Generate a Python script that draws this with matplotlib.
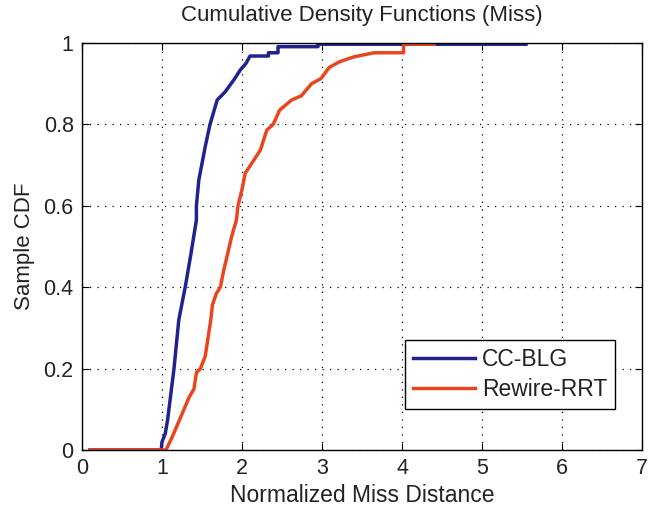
import matplotlib
matplotlib.use("Agg")
import matplotlib.pyplot as plt

plt.rcParams['font.family'] = ['Liberation Sans', 'DejaVu Sans']

# CC-BLG CDF (traced points along the curve)
blg_x = [0.1, 0.99, 1.00, 1.04, 1.07, 1.15, 1.21, 1.29, 1.36, 1.43, 1.43, 1.46, 1.54,
         1.60, 1.69, 1.79, 1.90, 1.98, 2.05, 2.10, 2.33, 2.33, 2.45, 2.45, 2.95, 2.95, 5.55]
blg_y = [0.0, 0.0, 0.02, 0.04, 0.074, 0.20, 0.32, 0.40, 0.48, 0.565, 0.60, 0.663, 0.745,
         0.80, 0.86, 0.88, 0.91, 0.934, 0.95, 0.968, 0.968, 0.976, 0.976, 0.991, 0.991, 0.997, 0.997]

# Rewire-RRT CDF (traced points along the curve)
rrt_x = [0.1, 1.05, 1.13, 1.34, 1.40, 1.43, 1.48, 1.54, 1.61, 1.63, 1.68, 1.73,
         1.77, 1.87, 1.93, 1.95, 2.00, 2.04, 2.14, 2.23, 2.31, 2.39, 2.47, 2.62,
         2.74, 2.87, 2.99, 3.09, 3.22, 3.40, 3.65, 4.02, 4.02, 4.40]
rrt_y = [0.0, 0.0, 0.033, 0.13, 0.15, 0.19, 0.20, 0.23, 0.32, 0.356, 0.385, 0.40,
         0.44, 0.524, 0.565, 0.60, 0.64, 0.68, 0.71, 0.737, 0.786, 0.80, 0.835, 0.86,
         0.87, 0.90, 0.913, 0.94, 0.954, 0.966, 0.976, 0.976, 0.997, 0.997]

fig = plt.figure(figsize=(6.52, 5.11), dpi=100)
ax = fig.add_axes([82/652, 1-450/511, (642-82)/652, (450-43)/511])

ax.plot(blg_x, blg_y, color='#22228e', lw=2.5, label='CC-BLG')
ax.plot(rrt_x, rrt_y, color='#e8461e', lw=2.5, label='Rewire-RRT')

ax.set_xlim(0, 7)
ax.set_ylim(0, 1)
ax.set_xticks(range(0, 8))
ax.set_yticks([0, 0.2, 0.4, 0.6, 0.8, 1])
ax.set_yticklabels(['0', '0.2', '0.4', '0.6', '0.8', '1'])
ax.grid(True, linestyle=(0, (1, 5)), color='black', lw=0.9)
ax.tick_params(direction='in', top=True, right=True, labelsize=15.5, length=5, pad=6)
for s in ax.spines.values():
    s.set_linewidth(1.0)

ax.set_title('Cumulative Density Functions (Miss)', fontsize=16, pad=16, color='#222222')
ax.set_xlabel('Normalized Miss Distance', fontsize=16.5, labelpad=3, color='#222222')
ax.set_ylabel('Sample CDF', fontsize=16, labelpad=6, color='#222222')
for lab in ax.get_xticklabels() + ax.get_yticklabels():
    lab.set_color('#222222')

leg = ax.legend(loc='lower right', bbox_to_anchor=(615/652, 1-409/511),
                bbox_transform=fig.transFigure, fontsize=16.5, fancybox=False,
                framealpha=1, edgecolor='black', handlelength=2.7, borderpad=0.35,
                labelspacing=0.3, handletextpad=0.3, borderaxespad=0)
leg.get_frame().set_linewidth(1.0)
for t in leg.get_texts():
    t.set_color('#222222')

fig.savefig('out.png', dpi=100)
